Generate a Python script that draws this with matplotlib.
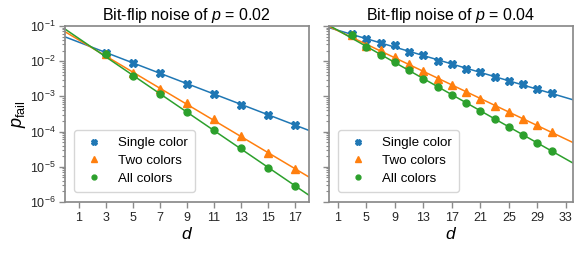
import numpy as np
import matplotlib
matplotlib.use("Agg")
from matplotlib import pyplot as plt

plt.rcParams['font.family'] = ['Liberation Sans', 'DejaVu Sans']
plt.rcParams['mathtext.fontset'] = 'custom'
plt.rcParams['mathtext.rm'] = 'Liberation Sans'
plt.rcParams['mathtext.it'] = 'Liberation Sans:italic'
plt.rcParams['axes.edgecolor'] = '#8a8a8a'
plt.rcParams['axes.linewidth'] = 1.25
plt.rcParams['xtick.color'] = '#8a8a8a'
plt.rcParams['ytick.color'] = '#8a8a8a'
plt.rcParams['xtick.labelcolor'] = '#262626'
plt.rcParams['ytick.labelcolor'] = '#262626'

# p = 0.02
d_02 = [3, 5, 7, 9, 11, 13, 15, 17]
single_02 = [1.67e-2, 9.1e-3, 4.6e-3, 2.25e-3, 1.15e-3, 5.8e-4, 2.95e-4, 1.58e-4]
two_02 = [1.57e-2, 4.6e-3, 1.66e-3, 6.4e-4, 2.2e-4, 7.4e-5, 2.4e-5, 8.5e-6]
all_02 = [1.55e-2, 3.9e-3, 1.2e-3, 3.5e-4, 1.12e-4, 3.3e-5, 9.5e-6, 2.8e-6]

# p = 0.04
d_04 = [3, 5, 7, 9, 11, 13, 15, 17, 19, 21, 23, 25, 27, 29, 31]
single_04 = [5.8e-2, 4.3e-2, 3.3e-2, 2.8e-2, 1.82e-2, 1.47e-2, 1.03e-2, 8.1e-3,
             6.0e-3, 4.8e-3, 3.56e-3, 2.7e-3, 2.2e-3, 1.59e-3, 1.25e-3]
two_04 = [5.5e-2, 2.7e-2, 2.1e-2, 1.29e-2, 8.3e-3, 5.3e-3, 3.1e-3, 2.1e-3,
          1.36e-3, 8.5e-4, 5.4e-4, 3.6e-4, 2.3e-4, 1.5e-4, 9.6e-5]
all_04 = [5.6e-2, 2.5e-2, 1.53e-2, 9.5e-3, 5.6e-3, 3.2e-3, 1.9e-3, 1.12e-3,
          6.4e-4, 3.9e-4, 2.3e-4, 1.35e-4, 8.2e-5, 4.7e-5, 2.8e-5]

labels = ['Single color', 'Two colors', 'All colors']
markers = ['X', '^', 'o']
sizes = [5.5, 5.5, 5]
colors = ['tab:blue', 'tab:orange', 'tab:green']

panels = [
    ('0.02', d_02, [single_02, two_02, all_02], (0, 18), np.arange(1, 18, 2)),
    ('0.04', d_04, [single_04, two_04, all_04], (-0.2, 34), np.arange(1, 34, 4)),
]

fig, axes = plt.subplots(1, 2, figsize=(5.81, 2.54), dpi=100, sharey=True)
fig.subplots_adjust(left=0.112, right=0.986, bottom=0.205, top=0.898, wspace=0.085)

for ax, (p, d, series, xlim, xticks) in zip(axes, panels):
    d = np.array(d)
    xs = np.linspace(xlim[0], xlim[1], 50)
    for vals, lab, m, ms, c in zip(series, labels, markers, sizes, colors):
        vals = np.array(vals)
        keep = d >= 5
        slope, icpt = np.polyfit(d[keep], np.log10(vals[keep]), 1)
        ax.plot(xs, 10 ** (icpt + slope * xs), color=c, lw=1.1)
        ax.plot(d, vals, m, color=c, ms=ms, label=lab, linestyle='none')
    ax.set_yscale('log')
    ax.set_ylim(1e-6, 1e-1)
    ax.set_xlim(*xlim)
    ax.set_xticks(xticks)
    ax.set_title('Bit-flip noise of $p$ = ' + p, fontsize=11.5, pad=4)
    ax.set_xlabel('$d$', fontsize=12.5, labelpad=2)
    ax.tick_params(which='major', length=4.5, width=1, labelsize=9, pad=2.5)
    ax.tick_params(which='minor', length=2.5, width=0.8)
    ax.legend(loc='lower left', fontsize=9.6, markerscale=0.7, handletextpad=0.8,
              labelspacing=0.42, borderpad=0.5, bbox_to_anchor=(0.01, 0.02))

axes[0].set_ylabel('$p_\\mathrm{fail}$', fontsize=13, labelpad=1)

fig.savefig('out.png', dpi=100)
